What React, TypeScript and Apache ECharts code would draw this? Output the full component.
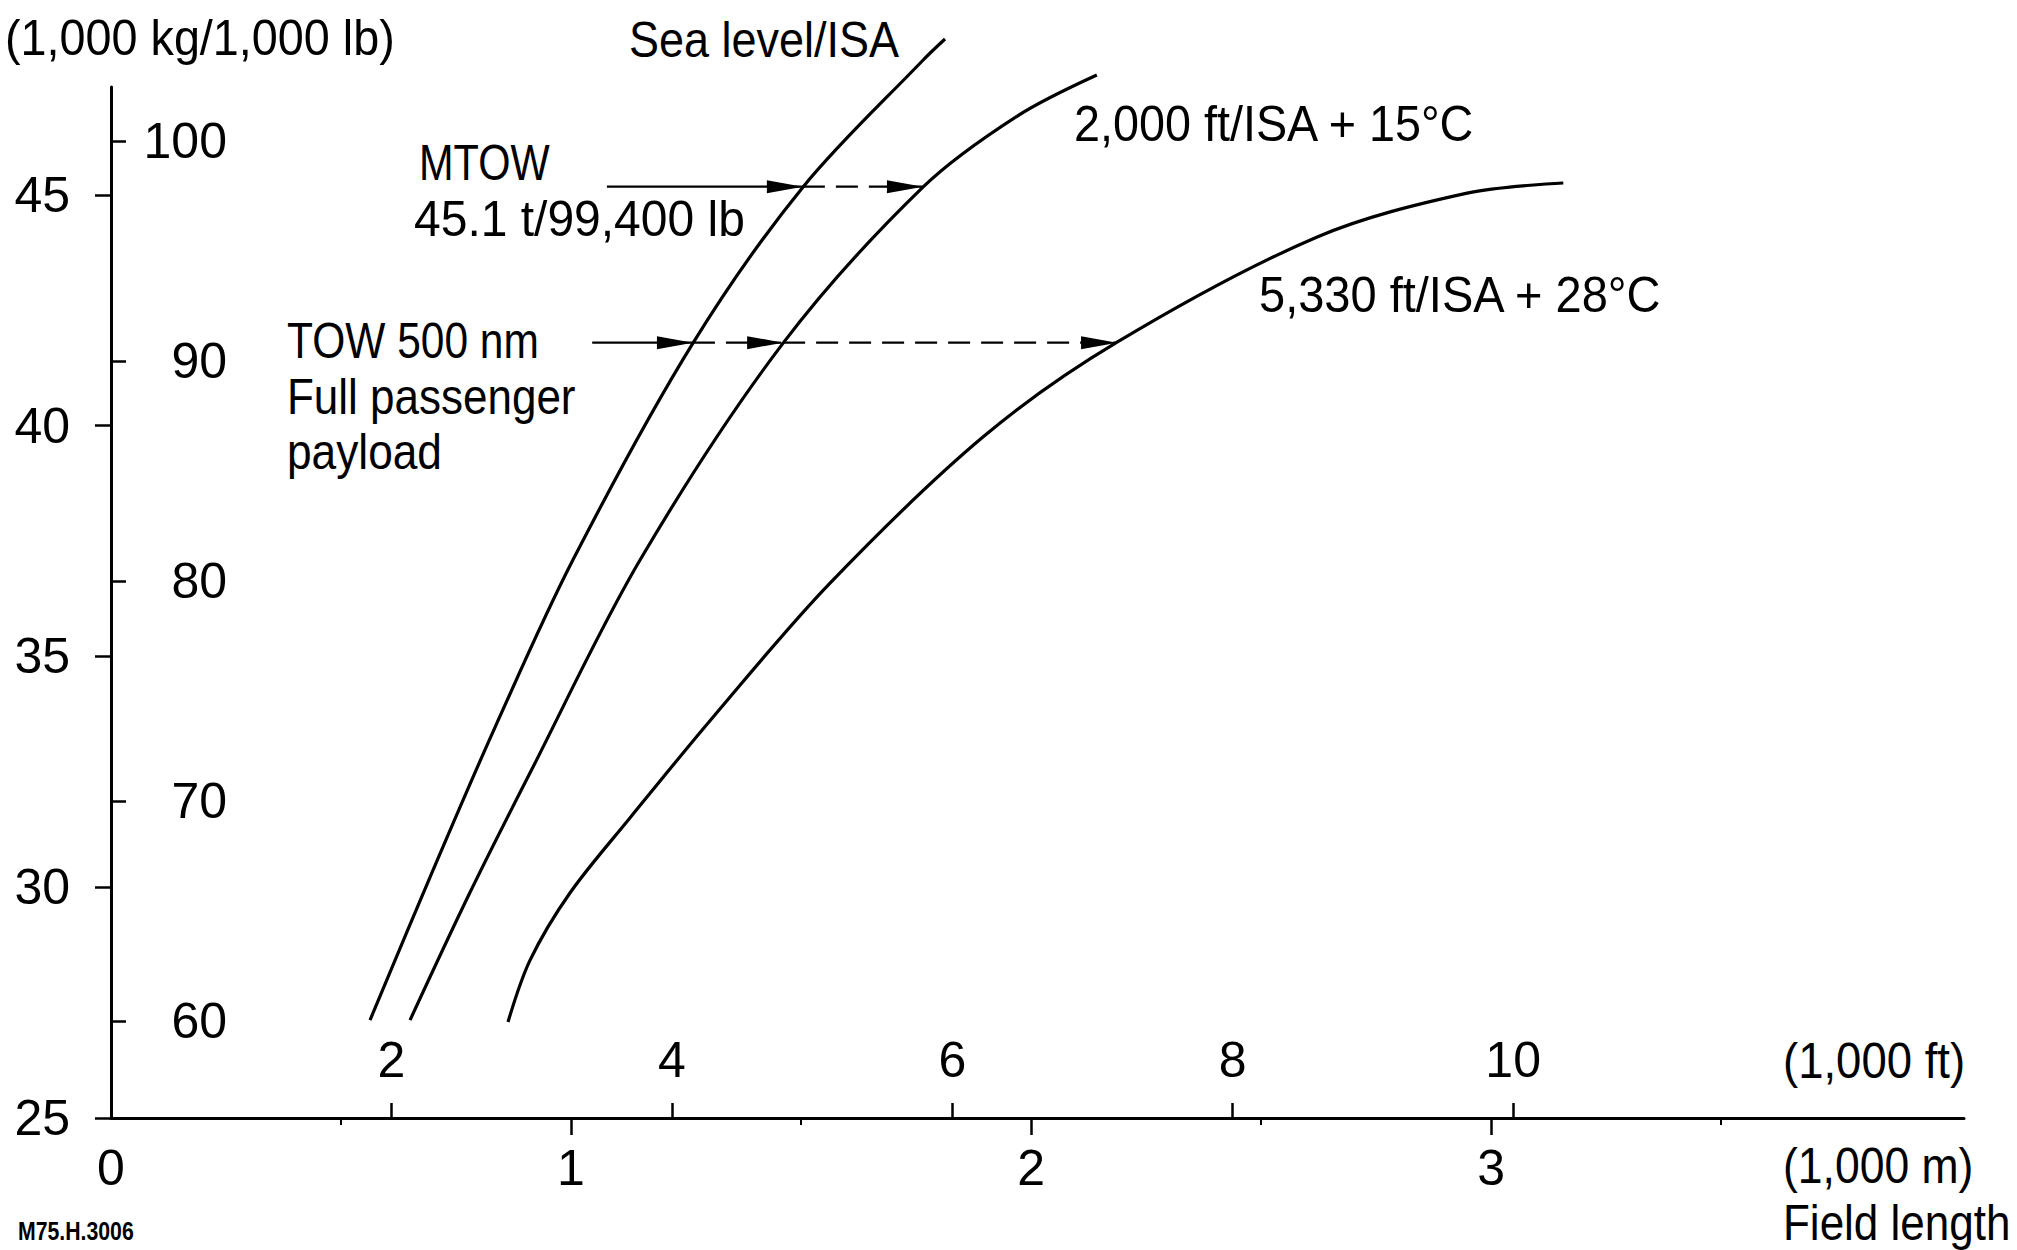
import React, { useEffect, useRef } from 'react';
import * as echarts from 'echarts';

const FONT = "'Liberation Sans', Arial, Helvetica, sans-serif";

// ---- axis ranges ----
const kmMin = 0;
const kmMax = 4.028;
const ftMax = kmMax / 0.3048;
const tMin = 25;
const tMax = 47.34;
const lbMin = 55.59;
const lbMax = 102.45;

// ---- tick values ----
const tonneTicks = [25, 30, 35, 40, 45];
const lbTicks = [60, 70, 80, 90, 100];
const kmLabels = [0, 1, 2, 3];
const kmMajorTicks = [1, 2, 3];
const kmMinorTicks = [0.5, 1.5, 2.5, 3.5];
const ftTicks = [2, 4, 6, 8, 10];

// ---- curves: [field length (1,000 m), weight (1,000 kg)] ----
const seaLevelISA: [number, number][] = [
  [0.563, 27.12], [0.7, 30.37], [0.835, 33.47], [1.004, 37.09], [1.265, 41.79],
  [1.504, 45.17], [1.765, 47.92], [1.813, 48.38],
];
const ft2000ISA15: [number, number][] = [
  [0.65, 27.12], [0.78, 29.88], [0.911, 32.48], [1.15, 37.09], [1.461, 41.79],
  [1.765, 45.17], [1.97, 46.71], [2.143, 47.6],
];
const ft5330ISA28: [number, number][] = [
  [0.863, 27.08], [0.911, 28.42], [0.998, 29.88], [1.128, 31.5], [1.309, 33.69],
  [1.563, 36.59], [1.896, 39.76], [2.187, 41.81], [2.622, 44.09], [2.948, 45.04],
  [3.157, 45.26],
];

// ---- reference weights & arrows ----
const mtowTonnes = 45.18;
const towTonnes = 41.8;
const mtowArrowStart = 1.078;
const towArrowStart = 1.046;
const mtowHits = [1.504, 1.765];
const towHits = [1.265, 1.461, 2.187];

function arrowSeries(from: number, to: number, y: number, dashed: boolean) {
  return {
    type: 'line',
    xAxisIndex: 0,
    yAxisIndex: 0,
    silent: true,
    clip: false,
    lineStyle: { color: '#000', width: 2.2, type: dashed ? [22, 11] : 'solid' },
    itemStyle: { color: '#000', borderWidth: 0 },
    showAllSymbol: true,
    data: [
      { value: [from, y], symbol: 'none' },
      {
        value: [to, y],
        symbol: 'triangle',
        symbolSize: [13, 36],
        symbolRotate: -90,
        symbolOffset: [-18, 0],
      },
    ],
  };
}

function curveSeries(data: [number, number][]) {
  return {
    type: 'line',
    xAxisIndex: 0,
    yAxisIndex: 0,
    silent: true,
    clip: false,
    smooth: 0.33,
    symbol: 'none',
    lineStyle: { color: '#000', width: 3.2 },
    data,
  };
}

type Lbl = { text: string; x: number; b: number; sx: number; fs?: number; bold?: boolean };
const labels: Lbl[] = [
  { text: '(1,000 kg/1,000 lb)', x: 5, b: 55, sx: 0.935 },
  { text: 'Sea level/ISA', x: 629, b: 57, sx: 0.9 },
  { text: 'MTOW', x: 419, b: 180, sx: 0.83 },
  { text: '45.1 t/99,400 lb', x: 414, b: 236, sx: 0.96 },
  { text: 'TOW 500 nm', x: 287, b: 358, sx: 0.85 },
  { text: 'Full passenger', x: 287, b: 414, sx: 0.88 },
  { text: 'payload', x: 287, b: 469, sx: 0.885 },
  { text: '2,000 ft/ISA + 15°C', x: 1074, b: 141, sx: 0.935 },
  { text: '5,330 ft/ISA + 28°C', x: 1259, b: 312, sx: 0.94 },
  { text: '(1,000 ft)', x: 1783, b: 1078, sx: 0.91 },
  { text: '(1,000 m)', x: 1783, b: 1183, sx: 0.89 },
  { text: 'Field length', x: 1783, b: 1240, sx: 0.88 },
  { text: 'M75.H.3006', x: 18, b: 1240, sx: 0.85, fs: 25, bold: true },
];

export default function App() {
  const ref = useRef<HTMLDivElement>(null);
  useEffect(() => {
    if (!ref.current) return;
    const chart = echarts.init(ref.current, null, { renderer: 'svg' });
    const axisFont = { fontFamily: FONT, fontSize: 50, color: '#000' };
    const option: any = {
      animation: false,
      backgroundColor: '#fff',
      grid: { left: 111, top: 87, right: 53, bottom: 132, containLabel: false },
      xAxis: [
        {
          type: 'value', min: kmMin, max: kmMax, position: 'bottom',
          axisLine: { show: true, onZero: false, lineStyle: { color: '#000', width: 3 } },
          axisTick: { show: true, length: 17, customValues: kmMajorTicks, lineStyle: { color: '#000', width: 2.5 } },
          axisLabel: { ...axisFont, margin: 25, customValues: kmLabels },
          splitLine: { show: false },
        },
        {
          type: 'value', min: kmMin, max: kmMax, position: 'bottom',
          axisLine: { show: false, onZero: false },
          axisTick: { show: true, length: 7, customValues: kmMinorTicks, lineStyle: { color: '#000', width: 2 } },
          axisLabel: { show: false },
          splitLine: { show: false },
        },
        {
          type: 'value', min: 0, max: ftMax, position: 'bottom',
          axisLine: { show: false, onZero: false },
          axisTick: { show: true, inside: true, length: 15, customValues: ftTicks, lineStyle: { color: '#000', width: 2.5 } },
          axisLabel: { ...axisFont, inside: true, margin: 33, customValues: ftTicks },
          splitLine: { show: false },
        },
      ],
      yAxis: [
        {
          type: 'value', min: tMin, max: tMax, position: 'left',
          axisLine: { show: true, onZero: false, lineStyle: { color: '#000', width: 3 } },
          axisTick: { show: true, length: 16, customValues: tonneTicks, lineStyle: { color: '#000', width: 2.5 } },
          axisLabel: { ...axisFont, margin: 41, align: 'right', customValues: tonneTicks },
          splitLine: { show: false },
        },
        {
          type: 'value', min: lbMin, max: lbMax, position: 'left', offset: 0,
          axisLine: { show: false, onZero: false },
          axisTick: { show: true, inside: true, length: 15, customValues: lbTicks, lineStyle: { color: '#000', width: 2.5 } },
          axisLabel: { ...axisFont, inside: true, margin: 116, align: 'right', customValues: lbTicks },
          splitLine: { show: false },
        },
      ],
      series: [
        curveSeries(seaLevelISA),
        curveSeries(ft2000ISA15),
        curveSeries(ft5330ISA28),
        arrowSeries(mtowArrowStart, mtowHits[0], mtowTonnes, false),
        arrowSeries(mtowHits[0], mtowHits[1], mtowTonnes, true),
        arrowSeries(towArrowStart, towHits[0], towTonnes, false),
        arrowSeries(towHits[0], towHits[1], towTonnes, true),
        arrowSeries(towHits[1], towHits[2], towTonnes, true),
      ],
      graphic: labels.map((l) => {
        const fs = l.fs ?? 50;
        return {
          type: 'text',
          silent: true,
          x: l.x,
          y: l.b - fs * 0.347,
          scaleX: l.sx,
          style: {
            text: l.text,
            x: 0,
            y: 0,
            fill: '#000',
            fontFamily: FONT,
            fontSize: fs,
            fontWeight: l.bold ? 'bold' : 'normal',
            align: 'left',
            verticalAlign: 'middle',
          },
        };
      }),
    };
    chart.setOption(option);
    return () => chart.dispose();
  }, []);
  return (
    <div
      ref={ref}
      style={{ position: 'absolute', left: 0, top: 0, width: 2017, height: 1250, background: '#fff' }}
    />
  );
}
